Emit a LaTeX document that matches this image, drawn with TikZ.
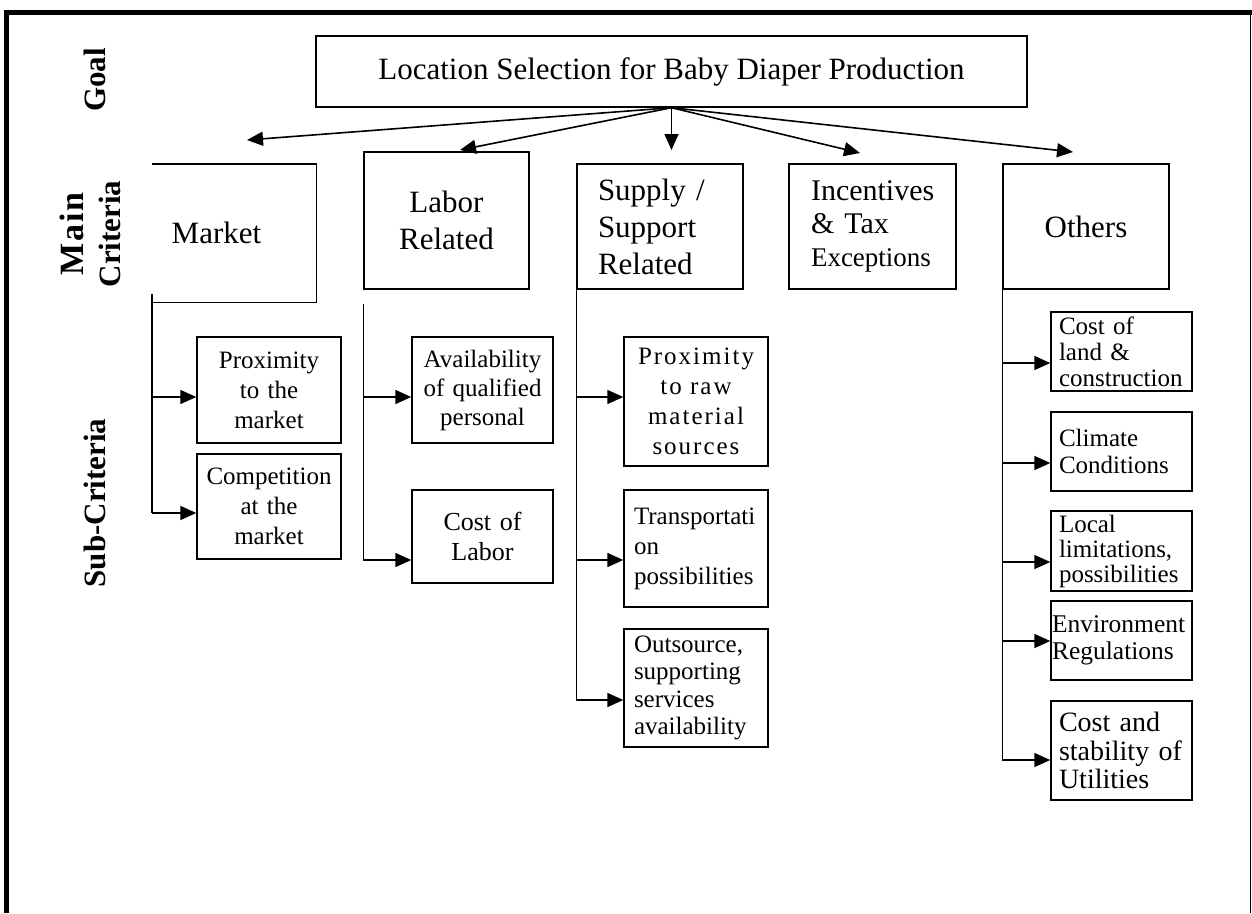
\documentclass[tikz,border=0pt]{standalone}
\usepackage{fontspec}
\setmainfont{Liberation Serif}
\usetikzlibrary{arrows.meta}
\begin{document}
\begin{tikzpicture}[x=1pt,y=-1pt,
  bx/.style={draw, line width=1.4pt, inner ysep=1pt, inner xsep=4pt},
  arr/.style={line width=1.6pt, -{Triangle[length=16pt,width=14pt]}},
  bus/.style={line width=1.6pt},
  mainf/.style={font=\fontsize{31}{37}\selectfont},
  subf/.style={font=\fontsize{25}{30}\selectfont},
  lbl/.style={font=\fontsize{31}{37}\selectfont\bfseries, rotate=90, align=center, inner sep=0pt},
  crit/.style={bx, minimum width=166pt, minimum height=125pt},
  oth/.style={bx, minimum width=141pt, inner xsep=8pt, text width=125pt, align=left}
]
\useasboundingbox (0,0) rectangle (1252,913);
% frame
\fill (4,10) rectangle (1252,15);
\fill (4,10) rectangle (9,913);
\fill (1249.7,12) rectangle (1251.3,913);

% level labels
\node[lbl] (lgoal) at (95,80) {Goal};
\node[lbl] (lmain) at (90,234) {{\fontsize{34}{37}\selectfont\addfontfeature{LetterSpace=5}Main}\\Criteria};
\node[lbl] (lsub) at (95,503) {Sub-Criteria};

% goal
\node[bx, mainf, minimum width=711pt, minimum height=71pt] (goal) at (671.5,71.5) {Location Selection for Baby Diaper Production};

% main criteria
\node[mainf, minimum width=164pt, minimum height=138pt, inner sep=0pt] (market) at (234,233) {Market\hspace*{35pt}};
\draw[line width=1.4pt] (market.north west) -- (market.north east) -- (market.south east) -- (market.south west);
\node[bx, mainf, minimum width=165pt, minimum height=137pt, text width=157pt, align=center] (labor) at (446.5,220.5) {Labor\\Related};
\node[crit, mainf, inner xsep=21pt, text width=124pt, align=left] (supply) at (660,226.5) {Supply /\\Support\\Related};
\node[crit, minimum width=167pt, inner xsep=22pt, text width=123pt, align=left, font=\fontsize{30}{33}\selectfont] (incent) at (872.5,226.5) {Incentives\\\& Tax\\{\fontsize{27}{32}\selectfont Exceptions}};
\node[crit, mainf] (others) at (1086,226.5) {Others};

% goal arrows
\coordinate (am) at (247,140);
\coordinate (al) at (460,150);
\coordinate (as) at (goal.south |- 0,150);
\coordinate (ai) at (860,153);
\coordinate (ao) at (1073,152);
\draw[arr] (goal.south) -- (am);
\draw[arr] (goal.south) -- (al);
\draw[arr] (goal.south) -- (as);
\draw[arr] (goal.south) -- (ai);
\draw[arr] (goal.south) -- (ao);

% market sub-criteria
\node[bx, subf, minimum width=144pt, minimum height=106pt, text width=136pt, align=center] (pmarket) at (269,390) {Proximity\\to the\\market};
\node[bx, subf, minimum width=144pt, minimum height=105pt, text width=136pt, align=center] (cmarket) at (269,506.5) {Competition\\at the\\market};
\coordinate (mb) at ([yshift=8pt]market.south west);
\draw[bus] (mb) -- (mb |- 0,513);
\draw[arr] (mb |- 0,397) -- (pmarket.west |- 0,397);
\draw[arr] (mb |- 0,513) -- (cmarket.west |- 0,513);

% labor sub-criteria
\node[bx, font=\fontsize{25}{29}\selectfont, minimum width=141pt, minimum height=106pt, text width=133pt, align=center] (avail) at (482.5,390) {Availability\\of qualified\\personal};
\node[bx, font=\fontsize{26}{30}\selectfont, minimum width=141pt, minimum height=93pt, text width=133pt, align=center] (costlab) at (482.5,536.5) {Cost of\\Labor};
\coordinate (lb) at ([yshift=-14pt]labor.south west);
\draw[bus] (lb) -- (lb |- 0,560);
\draw[arr] (lb |- 0,397) -- (avail.west |- 0,397);
\draw[arr] (lb |- 0,560) -- (costlab.west |- 0,560);

% supply sub-criteria
\node[bx, font=\fontsize{25}{30}\selectfont\addfontfeature{LetterSpace=8}, minimum width=144pt, minimum height=129pt, text width=136pt, align=center] (raw) at (696,401.5) {Proximity\\to raw\\material\\sources};
\node[bx, font=\fontsize{25}{30}\selectfont, minimum width=144pt, minimum height=117pt, inner xsep=10pt, text width=124pt, align=left] (trans) at (696,548.5) {Transportati\\on\\possibilities\par\vspace*{24pt}};
\node[bx, font=\fontsize{25}{27.5}\selectfont, minimum width=144pt, minimum height=118pt, inner xsep=10pt, text width=124pt, align=left] (outs) at (696,688) {Outsource,\\supporting\\services\\availability};
\coordinate (sb) at (supply.south west);
\draw[bus] (sb) -- (sb |- 0,700);
\draw[arr] (sb |- 0,397) -- (raw.west |- 0,397);
\draw[arr] (sb |- 0,560) -- (trans.west |- 0,560);
\draw[arr] (sb |- 0,700) -- (outs.west |- 0,700);

% others sub-criteria
\node[oth, font=\fontsize{25}{26}\selectfont, minimum height=79pt] (land) at (1121.5,351.5) {Cost of\\land \&\\construction};
\node[oth, font=\fontsize{25}{27}\selectfont, minimum height=79pt] (climate) at (1121.5,451.5) {Climate\\Conditions};
\node[oth, font=\fontsize{25}{25}\selectfont, minimum height=80pt] (local) at (1121.5,551) {Local\\limitations,\\possibilities};
\node[oth, font=\fontsize{25.5}{27}\selectfont, minimum height=79pt, inner xsep=1pt, text width=139pt] (env) at (1121.5,640.5) {Environment\\Regulations};
\node[oth, font=\fontsize{28}{28.5}\selectfont, minimum height=99pt] (util) at (1121.5,750.5) {Cost and\\stability of\\Utilities};
\coordinate (ob) at (others.south west);
\draw[bus] (ob) -- (ob |- 0,760);
\draw[arr] (ob |- 0,363) -- (land.west |- 0,363);
\draw[arr] (ob |- 0,463) -- (climate.west |- 0,463);
\draw[arr] (ob |- 0,562) -- (local.west |- 0,562);
\draw[arr] (ob |- 0,641) -- (env.west |- 0,641);
\draw[arr] (ob |- 0,760) -- (util.west |- 0,760);
\end{tikzpicture}
\end{document}
